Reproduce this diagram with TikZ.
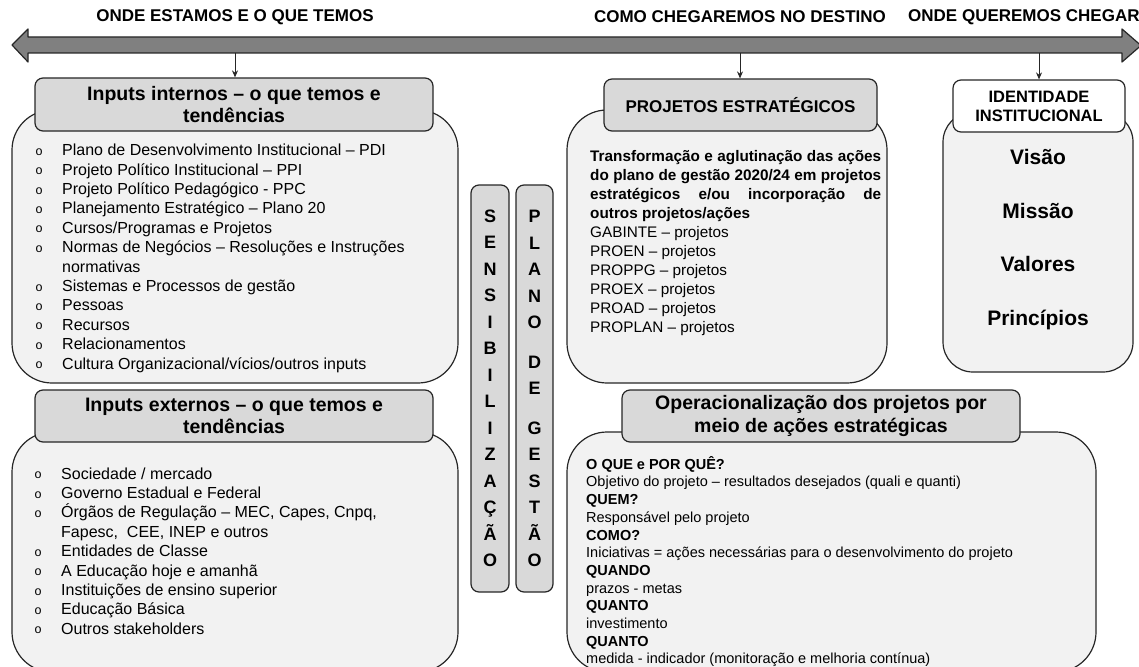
\documentclass[tikz,border=0pt]{standalone}
\usepackage{fontspec}
\setmainfont{Liberation Sans}
\usetikzlibrary{arrows.meta}
\definecolor{boxgray}{HTML}{F2F2F2}
\definecolor{headgray}{HTML}{D9D9D9}
\definecolor{arrowgray}{HTML}{808080}
\definecolor{linegray}{HTML}{262626}
\newcommand{\bul}{\makebox[27pt][l]{\hspace{0.5pt}\raisebox{0.5pt}{\fontsize{12.5}{12}\selectfont o}}}
\newcommand{\jline}[1]{\makebox[291pt][s]{#1}}
\tikzset{
  bodybox/.style={draw=linegray, line width=1.2pt, fill=boxgray},
  headbox/.style={draw=linegray, line width=1.2pt, fill=headgray, rounded corners=8pt,
    inner sep=0pt, align=center, font=\bfseries\fontsize{19.5}{22.4}\selectfont},
  toplabel/.style={inner sep=0pt, font=\bfseries\fontsize{17}{20}\selectfont},
  listtxt/.style={inner sep=0pt, align=left, anchor=north west},
  letterbox/.style={draw=linegray, line width=1.2pt, fill=headgray, rounded corners=8pt,
    inner sep=0pt, align=center, minimum height=407pt, font=\bfseries\fontsize{18}{26.5}\selectfont},
  idtxt/.style={inner sep=0pt, anchor=base, font=\bfseries\fontsize{21}{25}\selectfont},
  link/.style={draw=linegray, line width=1pt, -{Stealth[length=7pt,width=6pt]}}
}
\begin{document}
\begin{tikzpicture}[x=1pt, y=-1pt, line join=round]
  \useasboundingbox (0,0) rectangle (1139,666);
  % big double arrow
  \draw[draw=linegray, line width=1.2pt, fill=arrowgray] (12,45) -- (28,29) -- (28,37) -- (1122,37) -- (1122,29)
    -- (1141,45.5) -- (1122,62) -- (1122,53) -- (28,53) -- (28,62) -- cycle;
  \coordinate (tnow) at (235,53);
  \coordinate (thow) at (740,53);
  \coordinate (tgoal) at (1039,53);
  \node[toplabel] (lnow) at (235,17) {ONDE ESTAMOS E O QUE TEMOS};
  \node[toplabel] (lhow) at (740,17) {COMO CHEGAREMOS NO DESTINO};
  \node[toplabel, anchor=west] (lgoal) at (908,17) {ONDE QUEREMOS CHEGAR};

  % bodies
  \draw[bodybox, rounded corners=40pt] (12,110) rectangle (458,383);
  \draw[bodybox, rounded corners=40pt] (12,432) rectangle (458,672);
  \draw[bodybox, rounded corners=40pt] (567,110) rectangle (887,383);
  \draw[bodybox, rounded corners=30pt] (943,112) rectangle (1133,372);
  \draw[bodybox, rounded corners=40pt] (567,432) rectangle (1096,672);

  % headers
  \node[headbox, minimum width=398pt, minimum height=53pt] (hint) at (234,104.5) {Inputs internos – o que temos e\\tendências};
  \node[headbox, minimum width=398pt, minimum height=52pt] (hext) at (234,416) {Inputs externos – o que temos e\\tendências};
  \node[headbox, minimum width=273pt, minimum height=52pt, font=\bfseries\fontsize{17}{20}\selectfont] (hproj) at (740.5,105) {PROJETOS ESTRATÉGICOS};
  \node[headbox, fill=white, minimum width=172pt, minimum height=52pt, font=\bfseries\fontsize{16.5}{19}\selectfont] (hid) at (1039,106) {IDENTIDADE\\INSTITUCIONAL};
  \node[headbox, minimum width=398pt, minimum height=52pt] (hops) at (821,416) {Operacionalização dos projetos por\\meio de ações estratégicas};

  \draw[link] (tnow) -- (tnow |- hint.north);
  \draw[link] (thow) -- (thow |- hproj.north);
  \draw[link] (tgoal) -- (tgoal |- hid.north);

  % vertical words
  \node[letterbox, minimum width=38pt] (sens) at (490,388.5) {S\\E\\N\\S\\I\\B\\I\\L\\I\\Z\\A\\Ç\\Ã\\O};
  \node[letterbox, minimum width=37pt] (plano) at (534.5,388.5) {P\\L\\A\\N\\O\\[13pt]D\\E\\[13pt]G\\E\\S\\T\\Ã\\O};

  % lists
  \node[listtxt, font=\fontsize{16}{19.4}\selectfont] (lint) at (35,144) {\bul Plano de Desenvolvimento Institucional – PDI\\
    \bul Projeto Político Institucional – PPI\\
    \bul Projeto Político Pedagógico - PPC\\
    \bul Planejamento Estratégico – Plano 20\\
    \bul Cursos/Programas e Projetos\\
    \bul Normas de Negócios – Resoluções e Instruções\\
    \hspace*{27pt}normativas\\
    \bul Sistemas e Processos de gestão\\
    \bul Pessoas\\
    \bul Recursos\\
    \bul Relacionamentos\\
    \bul Cultura Organizacional/vícios/outros inputs};
  \node[listtxt, font=\fontsize{16}{19.4}\selectfont] (lext) at (34,467.3) {\bul Sociedade / mercado\\
    \bul Governo Estadual e Federal\\
    \bul Órgãos de Regulação – MEC, Capes, Cnpq,\\
    \hspace*{27pt}Fapesc,\ \ CEE, INEP e outros\\
    \bul Entidades de Classe\\
    \bul A Educação hoje e amanhã\\
    \bul Instituições de ensino superior\\
    \bul Educação Básica\\
    \bul Outros stakeholders};
  \node[listtxt, font=\fontsize{15.3}{19}\selectfont] (lproj) at (590,150) {\bfseries\jline{Transformação e aglutinação das ações}\\
    \bfseries\jline{do plano de gestão 2020/24 em projetos}\\
    \bfseries\jline{estratégicos e/ou incorporação de}\\
    \bfseries outros projetos/ações\\
    GABINTE – projetos\\
    PROEN – projetos\\
    PROPPG – projetos\\
    PROEX – projetos\\
    PROAD – projetos\\
    PROPLAN – projetos};
  \foreach \w/\y [count=\i] in {Visão/164.5, Missão/218.5, Valores/271.5, Princípios/325.5}
    \node[idtxt] (val\i) at (1038,\y) {\w};
  \node[listtxt, font=\fontsize{14.5}{17.7}\selectfont] (lops) at (586,456) {\textbf{O QUE e POR QUÊ?}\\
    Objetivo do projeto – resultados desejados (quali e quanti)\\
    \textbf{QUEM?}\\
    Responsável pelo projeto\\
    \textbf{COMO?}\\
    Iniciativas = ações necessárias para o desenvolvimento do projeto\\
    \textbf{QUANDO}\\
    prazos - metas\\
    \textbf{QUANTO}\\
    investimento\\
    \textbf{QUANTO}\\
    medida - indicador (monitoração e melhoria contínua)};
\end{tikzpicture}
\end{document}
